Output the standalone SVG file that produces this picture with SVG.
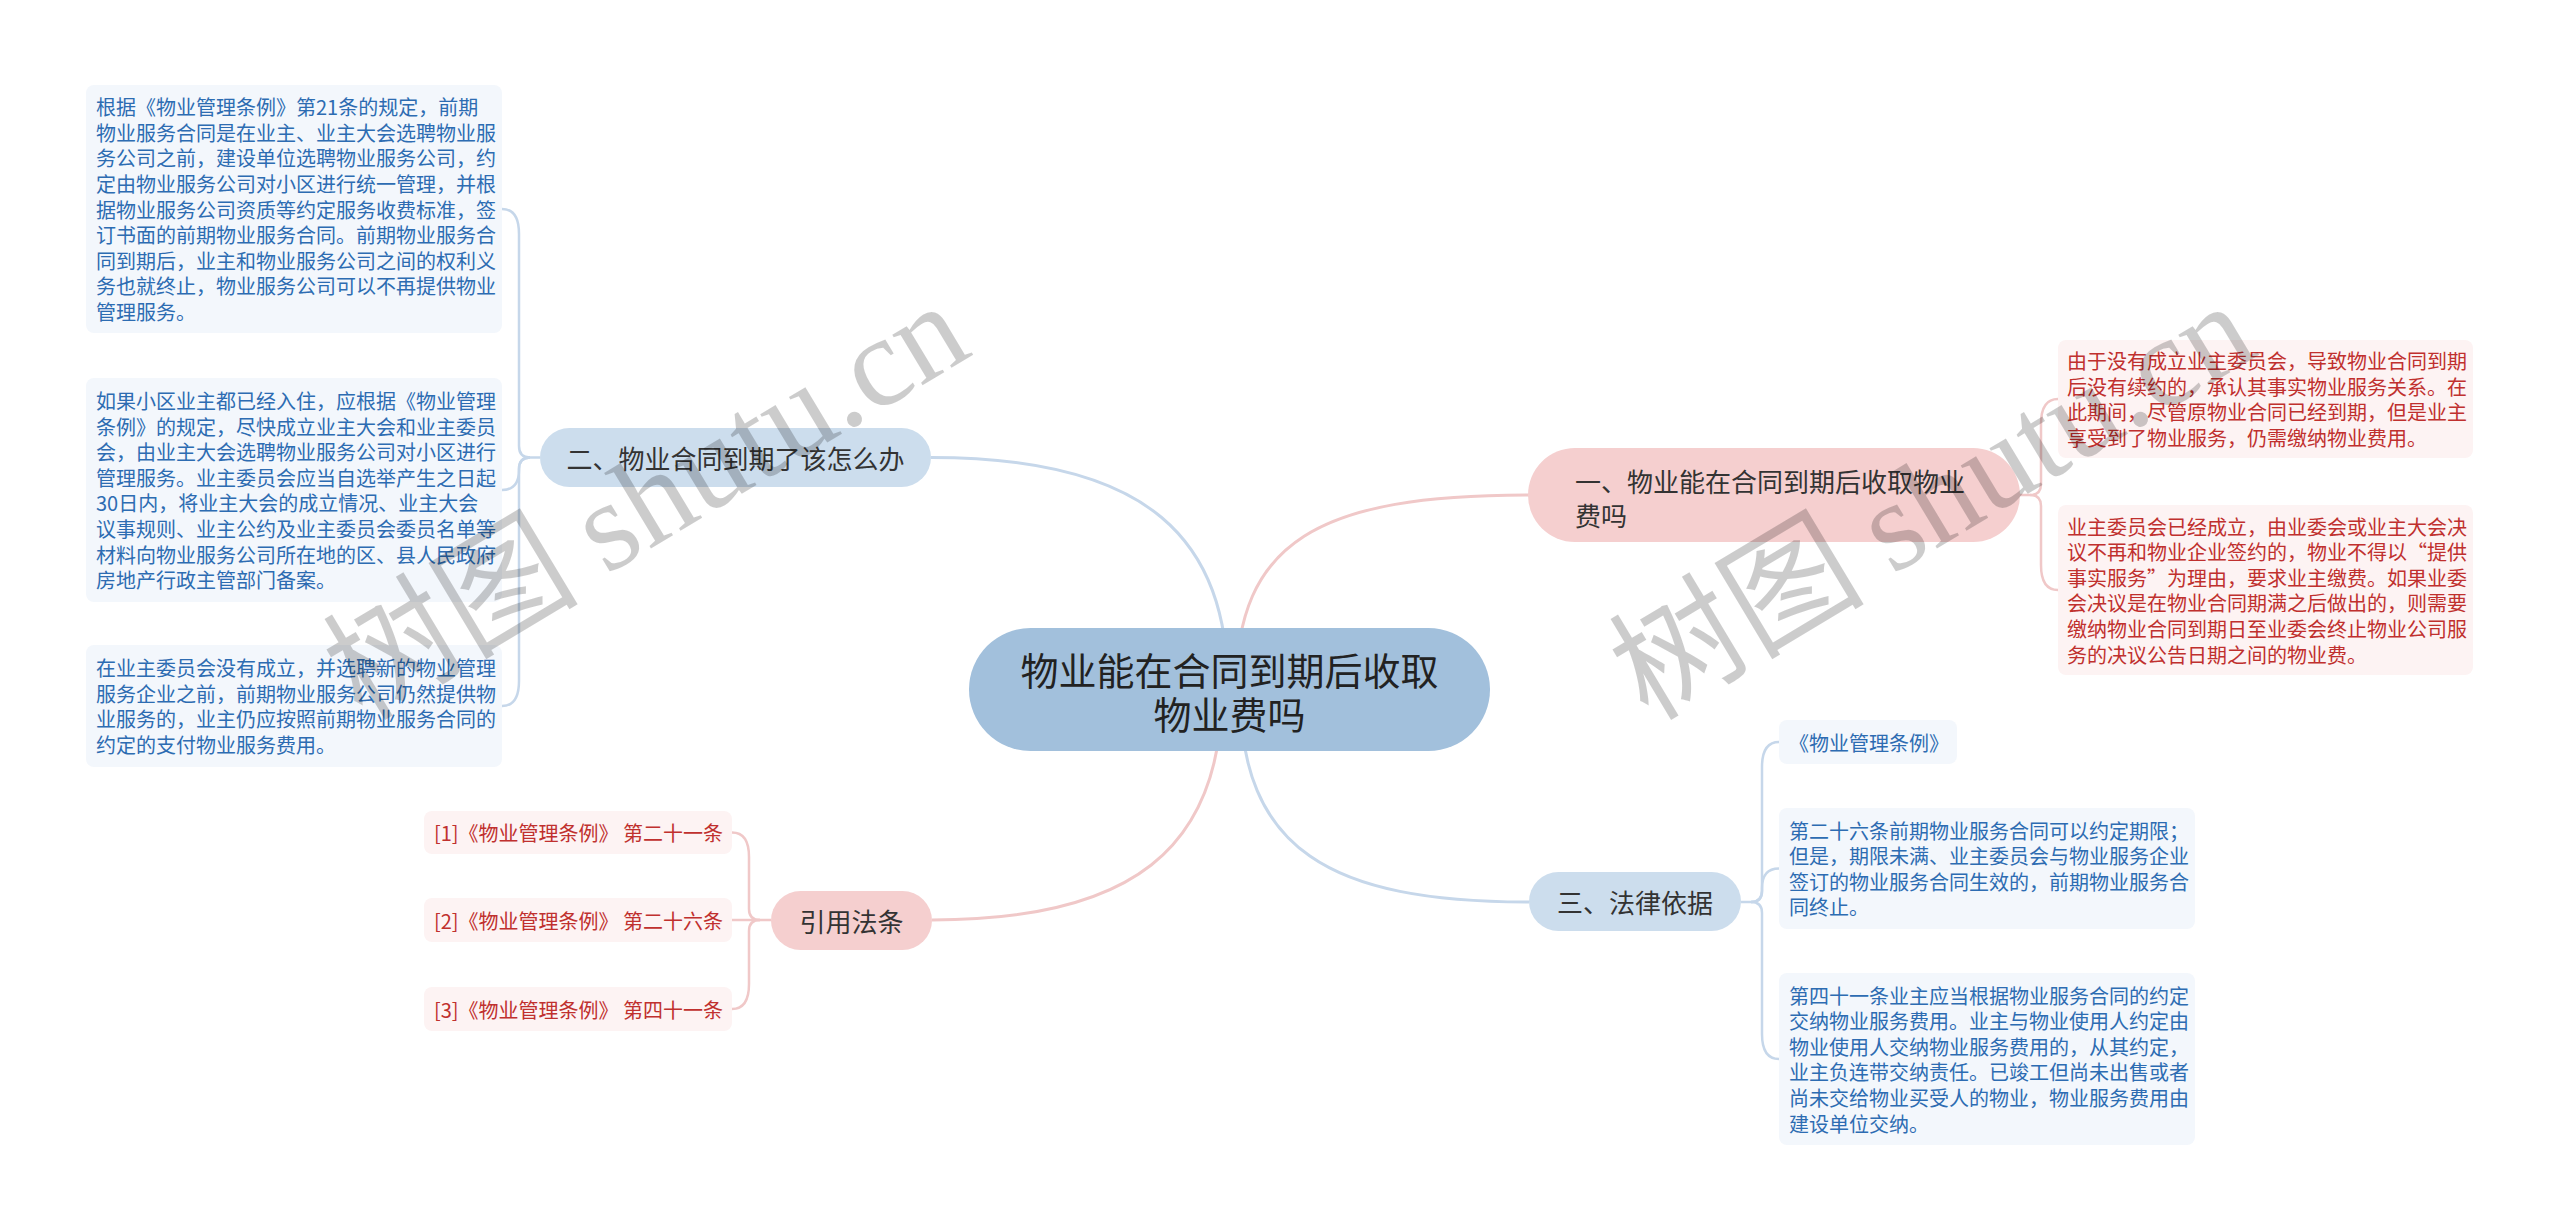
<svg xmlns="http://www.w3.org/2000/svg" width="2560" height="1231" viewBox="0 0 2560 1231">
<style>
text{font-family:"Noto Sans CJK SC","Noto Sans",sans-serif;dominant-baseline:central}
.bl{fill:none;stroke:#c6d7ea;stroke-width:3}
.pk{fill:none;stroke:#f0c8c8;stroke-width:3}
.blb{fill:none;stroke:#c6d7ea;stroke-width:2.5}
.pkb{fill:none;stroke:#f0c8c8;stroke-width:2.5}
.lb{fill:#f3f7fc}
.lp{fill:#fdf3f3}
.tb{font-size:20px;fill:#2d6cb2}
.tp{font-size:20px;fill:#c0302e}
.n1b{fill:#ccdded}
.n1p{fill:#f5cfcf}
.t1{font-size:26px;fill:#333}
.wm{fill:#000;fill-opacity:0.2}
</style>
<rect width="2560" height="1231" fill="#fff"/>
<g id="connectors">
<path class="bl" d="M931,457.5 C1150,457.5 1228,540 1228,690"/>
<path class="pk" d="M1529,495 C1320,495 1236,540 1236,690"/>
<path class="pk" d="M932,920 C1130,920 1222,850 1222,690"/>
<path class="bl" d="M1529,902 C1330,902 1240,850 1240,690"/>
<path class="blb" d="M540,457.5 H530 Q519,457.5 519,446 V234 Q519,209 502,209"/>
<path class="blb" d="M530,457.5 Q519,457.5 519,469 V470 Q519,490 502,490"/>
<path class="blb" d="M530,457.5 Q519,457.5 519,469 V681 Q519,706 502,706"/>
<path class="pkb" d="M2020,495 H2030 Q2041,495 2041,484 V424 Q2041,399 2058,399"/>
<path class="pkb" d="M2030,495 Q2041,495 2041,506 V565 Q2041,590 2058,590"/>
<path class="blb" d="M1741,902 H1751 Q1762,902 1762,891 V767 Q1762,742 1779,742"/>
<path class="blb" d="M1751,902 Q1762,902 1762,891 V888 Q1762,868.5 1779,868.5"/>
<path class="blb" d="M1751,902 Q1762,902 1762,913 V1034 Q1762,1059 1779,1059"/>
<path class="pkb" d="M771,920 H760 Q749,920 749,909 V857 Q749,832.5 732,832.5"/>
<path class="pkb" d="M760,920 H732"/>
<path class="pkb" d="M760,920 Q749,920 749,931 V984 Q749,1009 732,1009"/>
</g>
<g id="root">
<rect x="969" y="628" width="521" height="123" rx="61.5" fill="#a2c0dc"/>
<text x="1229.5" y="668" font-size="38" fill="#222" text-anchor="middle">物业能在合同到期后收取</text>
<text x="1229.5" y="712" font-size="38" fill="#222" text-anchor="middle">物业费吗</text>
</g>
<g id="n1">
<rect class="n1p" x="1528" y="448" width="492" height="94" rx="47"/>
<text class="t1" x="1575" y="480">一、物业能在合同到期后收取物业</text>
<text class="t1" x="1575" y="514">费吗</text>
</g>
<g id="n2">
<rect class="n1b" x="540" y="428" width="391" height="59" rx="29.5"/>
<text class="t1" x="735.5" y="457.5" text-anchor="middle">二、物业合同到期了该怎么办</text>
</g>
<g id="n3">
<rect class="n1b" x="1529" y="872" width="212" height="59" rx="29.5"/>
<text class="t1" x="1635" y="901.5" text-anchor="middle">三、法律依据</text>
</g>
<g id="n4">
<rect class="n1p" x="771" y="891" width="161" height="59" rx="29.5"/>
<text class="t1" x="851.5" y="920.5" text-anchor="middle">引用法条</text>
</g>
<g id="leaf-2-1">
<rect class="lb" x="86" y="85" width="416" height="248" rx="8"/>
<text class="tb" x="96" y="106.6">根据《物业管理条例》第21条的规定，前期</text>
<text class="tb" x="96" y="132.2">物业服务合同是在业主、业主大会选聘物业服</text>
<text class="tb" x="96" y="157.8">务公司之前，建设单位选聘物业服务公司，约</text>
<text class="tb" x="96" y="183.4">定由物业服务公司对小区进行统一管理，并根</text>
<text class="tb" x="96" y="209">据物业服务公司资质等约定服务收费标准，签</text>
<text class="tb" x="96" y="234.6">订书面的前期物业服务合同。前期物业服务合</text>
<text class="tb" x="96" y="260.2">同到期后，业主和物业服务公司之间的权利义</text>
<text class="tb" x="96" y="285.8">务也就终止，物业服务公司可以不再提供物业</text>
<text class="tb" x="96" y="311.4">管理服务。</text>
</g>
<g id="leaf-2-2">
<rect class="lb" x="86" y="378" width="416" height="224" rx="8"/>
<text class="tb" x="96" y="400.4">如果小区业主都已经入住，应根据《物业管理</text>
<text class="tb" x="96" y="426">条例》的规定，尽快成立业主大会和业主委员</text>
<text class="tb" x="96" y="451.6">会，由业主大会选聘物业服务公司对小区进行</text>
<text class="tb" x="96" y="477.2">管理服务。业主委员会应当自选举产生之日起</text>
<text class="tb" x="96" y="502.8">30日内，将业主大会的成立情况、业主大会</text>
<text class="tb" x="96" y="528.4">议事规则、业主公约及业主委员会委员名单等</text>
<text class="tb" x="96" y="554">材料向物业服务公司所在地的区、县人民政府</text>
<text class="tb" x="96" y="579.6">房地产行政主管部门备案。</text>
</g>
<g id="leaf-2-3">
<rect class="lb" x="86" y="645" width="416" height="122" rx="8"/>
<text class="tb" x="96" y="667.6">在业主委员会没有成立，并选聘新的物业管理</text>
<text class="tb" x="96" y="693.2">服务企业之前，前期物业服务公司仍然提供物</text>
<text class="tb" x="96" y="718.8">业服务的，业主仍应按照前期物业服务合同的</text>
<text class="tb" x="96" y="744.4">约定的支付物业服务费用。</text>
</g>
<g id="leaf-1-1">
<rect class="lp" x="2058" y="340" width="415" height="118" rx="8"/>
<text class="tp" x="2067" y="360.6">由于没有成立业主委员会，导致物业合同到期</text>
<text class="tp" x="2067" y="386.2">后没有续约的，承认其事实物业服务关系。在</text>
<text class="tp" x="2067" y="411.8">此期间，尽管原物业合同已经到期，但是业主</text>
<text class="tp" x="2067" y="437.4">享受到了物业服务，仍需缴纳物业费用。</text>
</g>
<g id="leaf-1-2">
<rect class="lp" x="2058" y="505" width="415" height="170" rx="8"/>
<text class="tp" x="2067" y="526">业主委员会已经成立，由业委会或业主大会决</text>
<text class="tp" x="2067" y="551.6">议不再和物业企业签约的，物业不得以“提供</text>
<text class="tp" x="2067" y="577.2">事实服务”为理由，要求业主缴费。如果业委</text>
<text class="tp" x="2067" y="602.8">会决议是在物业合同期满之后做出的，则需要</text>
<text class="tp" x="2067" y="628.4">缴纳物业合同到期日至业委会终止物业公司服</text>
<text class="tp" x="2067" y="654">务的决议公告日期之间的物业费。</text>
</g>
<g id="leaf-3-1">
<rect class="lb" x="1779" y="720" width="178" height="44" rx="8"/>
<text class="tb" x="1789" y="742">《物业管理条例》</text>
</g>
<g id="leaf-3-2">
<rect class="lb" x="1779" y="808" width="416" height="121" rx="8"/>
<text class="tb" x="1789" y="830">第二十六条前期物业服务合同可以约定期限；</text>
<text class="tb" x="1789" y="855.6">但是，期限未满、业主委员会与物业服务企业</text>
<text class="tb" x="1789" y="881.2">签订的物业服务合同生效的，前期物业服务合</text>
<text class="tb" x="1789" y="906.8">同终止。</text>
</g>
<g id="leaf-3-3">
<rect class="lb" x="1779" y="973" width="416" height="172" rx="8"/>
<text class="tb" x="1789" y="995">第四十一条业主应当根据物业服务合同的约定</text>
<text class="tb" x="1789" y="1020.6">交纳物业服务费用。业主与物业使用人约定由</text>
<text class="tb" x="1789" y="1046.2">物业使用人交纳物业服务费用的，从其约定，</text>
<text class="tb" x="1789" y="1071.8">业主负连带交纳责任。已竣工但尚未出售或者</text>
<text class="tb" x="1789" y="1097.4">尚未交给物业买受人的物业，物业服务费用由</text>
<text class="tb" x="1789" y="1123">建设单位交纳。</text>
</g>
<g id="ref-1">
<rect class="lp" x="424" y="811" width="308" height="43" rx="8"/>
<text class="tp" x="434" y="832.5">[1]《物业管理条例》 第二十一条</text>
</g>
<g id="ref-2">
<rect class="lp" x="424" y="898" width="308" height="44" rx="8"/>
<text class="tp" x="434" y="920">[2]《物业管理条例》 第二十六条</text>
</g>
<g id="ref-3">
<rect class="lp" x="424" y="987" width="308" height="44" rx="8"/>
<text class="tp" x="434" y="1009">[3]《物业管理条例》 第四十一条</text>
</g>
<g id="watermark">
<text class="wm" transform="translate(362,722) rotate(-31)" font-size="128" style="dominant-baseline:alphabetic">树图 <tspan font-family="Liberation Serif,serif">shutu.cn</tspan></text>
<text class="wm" transform="translate(1648,722) rotate(-31)" font-size="128" style="dominant-baseline:alphabetic">树图 <tspan font-family="Liberation Serif,serif">shutu.cn</tspan></text>
</g>
</svg>
